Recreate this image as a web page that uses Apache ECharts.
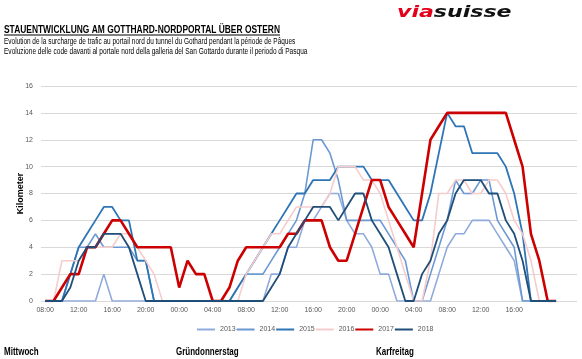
<!DOCTYPE html>
<html><head><meta charset="utf-8">
<script src="https://cdn.jsdelivr.net/npm/echarts@6/dist/echarts.min.js"></script>
<style>html,body{margin:0;padding:0;background:#fff}#c{width:582px;height:359px}</style>
</head><body><div id="c"></div>
<script>
const hours = ['08:00','09:00','10:00','11:00','12:00','13:00','14:00','15:00','16:00','17:00','18:00','19:00','20:00','21:00','22:00','23:00',
'00:00','01:00','02:00','03:00','04:00','05:00','06:00','07:00','08:00','09:00','10:00','11:00','12:00','13:00','14:00','15:00','16:00','17:00','18:00','19:00','20:00','21:00','22:00','23:00',
'00:00','01:00','02:00','03:00','04:00','05:00','06:00','07:00','08:00','09:00','10:00','11:00','12:00','13:00','14:00','15:00','16:00','17:00','18:00','19:00','20:00','21:00','22:00','23:00'];
const lastLabelIndex = 56;
const years = ['2013','2014','2015','2016','2017','2018'];
const v2013 = [0,0,0,0,0,0,0,2,0,0, 0,0,0,0,0,0,0,0,0,0, 0,0,0,0,0,0,0,2,2,4, 4,6,6,7,8,8,6,5,5,4, 2,2,0,0,0,0,0,2,4,5, 5,6,6,6,5,4,3,0,0,0, 0,0];
const v2014 = [0,0,0,2,4,4,5,4,4,4, 4,3,3,0,0,0,0,0,0,0, 0,0,0,1,2,2,2,3,4,5, 6,8,12,12,11,9,6,6,6,6, 6,5,4,3,0,0,2,4,6,9, 8,8,9,9,6,5,4,0,0,0, 0,0];
const v2015 = [0,0,0,2,4,5,6,7,7,6, 6,3,3,0,0,0,0,0,0,0, 0,0,0,1,2,3,4,5,6,7, 8,8,9,9,9,10,10,10,10,9, 9,9,8,7,6,6,8,11,14,13, 13,11,11,11,11,10,8,5,0,0, 0,0];
const v2016 = [0,0,3,3,3,4,4,4,4,5, 5,4,3,2,0,0,0,0,0,0, 0,0,0,0,2,3,4,5,5,6, 7,7,7,7,8,10,10,10,9,9, 8,6,4,2,0,0,3,8,8,9, 9,8,8,9,9,8,6,5,3,0, 0,0];
const v2017 = [0,0,1,2,2,4,4,5,6,6, 5,4,4,4,4,4,1,3,2,2, 0,0,1,3,4,4,4,4,4,5, 5,6,6,6,4,3,3,5,7,9, 9,7,6,5,4,8,12,13,14,14, 14,14,14,14,14,14,12,10,5,3, 0,0];
const v2018 = [0,0,0,1,3,4,4,5,5,5, 4,2,0,0,0,0,0,0,0,0, 0,0,0,0,0,0,0,1,2,4, 5,6,7,7,7,6,7,8,8,6, 5,4,2,0,0,2,3,5,6,8, 9,9,9,8,8,6,5,3,0,0, 0,0];
const values = [v2013, v2014, v2015, v2016, v2017, v2018];
const colors = ['#8faadc','#6b98d2','#2e75b6','#f6cccc','#cc0000','#1f4e79'];
const widths = [1.6,1.6,1.8,1.6,2.6,1.8];
const dayLabels = ['Mittwoch','Gründonnerstag','Karfreitag'];
const titleText = 'STAUENTWICKLUNG AM GOTTHARD-NORDPORTAL ÜBER OSTERN';
const subFr = 'Evolution de la surcharge de trafic au portail nord du tunnel du Gothard pendant la période de Pâques';
const subIt = 'Evoluzione delle code davanti al portale nord della galleria del San Gottardo durante il periodo di Pasqua';

const SANS = '"Liberation Sans",Arial,sans-serif';
const chart = echarts.init(document.getElementById('c'));
chart.setOption({
  animation:false,
  backgroundColor:'#fff',
  grid:{left:41,right:5,top:86,bottom:58,containLabel:false,outerBoundsMode:'none'},
  legend:{
    left:192, top:321, icon:'rect', itemWidth:18, itemHeight:2, itemGap:1,
    textStyle:{fontSize:7, color:'#595959', fontFamily:SANS},
    data:years
  },
  xAxis:{
    type:'category', data:hours, boundaryGap:true,
    axisLine:{show:false}, axisTick:{show:false}, splitLine:{show:false},
    axisLabel:{interval:0, color:'#595959', fontSize:7, margin:6, fontFamily:SANS,
      formatter:(v,i)=> (i%4===0 && i<=lastLabelIndex) ? v : ''}
  },
  yAxis:{
    type:'value', min:0, max:16, interval:2,
    name:'Kilometer', nameLocation:'middle', nameGap:16, nameRotate:90, nameMoveOverlap:false,
    nameTextStyle:{fontSize:9, fontWeight:'bold', color:'#000', fontFamily:SANS},
    axisLine:{show:false}, axisTick:{show:false},
    axisLabel:{color:'#595959', fontSize:7, margin:8, fontFamily:SANS},
    splitLine:{lineStyle:{color:'#d9d9d9', width:1}}
  },
  series: years.map((y,k)=>({
    name:y, type:'line', data:values[k], symbol:'none', smooth:false,
    lineStyle:{color:colors[k], width:widths[k]}, itemStyle:{color:colors[k]}
  })),
  graphic:[
    {type:'text', x:4, y:24, scaleX:0.765, style:{text:titleText, font:'bold 11px '+SANS, fill:'#000'}},
    {type:'rect', x:4, y:34.5, shape:{width:276, height:0.9}, style:{fill:'#000'}},
    {type:'text', x:4, y:37.5, scaleX:0.76, style:{text:subFr, font:'8.5px '+SANS, fill:'#000'}},
    {type:'text', x:4, y:47.5, scaleX:0.77, style:{text:subIt, font:'8.5px '+SANS, fill:'#000'}},
    {type:'text', x:397, y:5, scaleX:1.38, style:{
      text:'{a|via}{b|suisse}',
      rich:{a:{fill:'#e2001a', font:'italic 900 16px "DejaVu Sans",sans-serif'},
            b:{fill:'#111', font:'italic 900 16px "DejaVu Sans",sans-serif'}}}},
    {type:'text', x:4, y:347, scaleX:0.8, style:{text:dayLabels[0], font:'bold 10px '+SANS, fill:'#000'}},
    {type:'text', x:176, y:347, scaleX:0.8, style:{text:dayLabels[1], font:'bold 10px '+SANS, fill:'#000'}},
    {type:'text', x:376, y:347, scaleX:0.8, style:{text:dayLabels[2], font:'bold 10px '+SANS, fill:'#000'}}
  ]
});
</script></body></html>
